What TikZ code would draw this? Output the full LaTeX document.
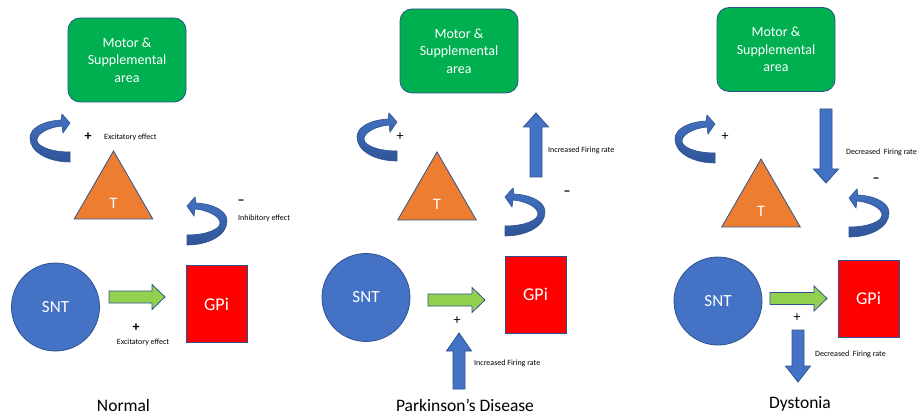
\documentclass[tikz,border=0pt]{standalone}
\usepackage{fontspec}
\setmainfont{Carlito}
\usetikzlibrary{shapes.geometric, positioning}

\definecolor{boxgreen}{HTML}{00B050}
\definecolor{edgeblue}{HTML}{2F528F}
\definecolor{triorange}{HTML}{ED7D31}
\definecolor{circblue}{HTML}{4472C4}
\definecolor{deepblue}{HTML}{2F5597}
\definecolor{arrowgreen}{HTML}{92D050}

\tikzstyle{motor} = [rectangle, rounded corners=12pt, minimum width=118pt, minimum height=84pt, draw=edgeblue, line width=0.8pt, fill=boxgreen, text=white, align=center, font=\fontsize{14}{17.5}\selectfont]
\tikzstyle{thalamus} = [regular polygon, regular polygon sides=3, minimum size=90.7pt, inner sep=0pt, draw=edgeblue, line width=0.8pt, fill=triorange]
\tikzstyle{snt} = [circle, minimum size=88pt, draw=edgeblue, line width=0.8pt, fill=circblue, text=white, font=\fontsize{17}{20}\selectfont]
\tikzstyle{gpi} = [rectangle, minimum width=61pt, minimum height=77pt, draw=edgeblue, line width=0.8pt, fill=red, text=white, font=\fontsize{18}{20}\selectfont]
\tikzstyle{tlabel} = [text=white, font=\fontsize{16}{18}\selectfont]
\tikzstyle{note} = [anchor=west, inner sep=1pt, font=\fontsize{8}{9}\selectfont]
\tikzstyle{sign} = [inner sep=0pt, font=\fontsize{14}{14}\selectfont]
\tikzstyle{title} = [font=\fontsize{17.5}{20}\selectfont]
\tikzstyle{curl} = [draw=edgeblue, line width=0.6pt, top color=circblue, bottom color=deepblue]
\tikzstyle{bluearrow} = [draw=edgeblue, line width=0.8pt, fill=circblue]
\tikzstyle{greenarrow} = [draw=edgeblue, line width=0.8pt, fill=arrowgreen]

% curved arrow: #1 top corner, #2 = 1 (head right) or -1 (head left)
\newcommand{\curlarrow}[2]{%
  \path[curl, shift={#1}, xscale=#2] (34,12) -- (35,19) -- (42,9) -- (34,0) -- (33,6)
    .. controls (15,7) and (2,14) .. (2,24)
    .. controls (2,38) and (20,48) .. (42,48) -- (42,38)
    .. controls (22,38) and (9,32) .. (9,26)
    .. controls (9,19) and (22,13) .. (34,12) -- cycle;}

% block arrow: #1 style, #2 tail, #3 angle, #4 length, #5 head length
\newcommand{\blockarrow}[5]{%
  \filldraw[#1, shift={#2}, rotate=#3] (0,-6) -- (#4-#5,-6) -- (#4-#5,-12.5) -- (#4,0)
    -- (#4-#5,12.5) -- (#4-#5,6) -- (0,6) -- cycle;}

\begin{document}
\begin{tikzpicture}[x=1pt, y=-1pt]
\useasboundingbox (0,0) rectangle (921,414);

% Normal
\node (motorN) [motor] at (127,60) {Motor \&\\Supplemental\\area};
\node (thalN) [thalamus] at (113.5,196.3) {};
\node (tN) [tlabel, yshift=-7pt] at (thalN.center) {T};
\node (sntN) [snt] at (55.5,307) {SNT};
\node (gpiN) [gpi] at (216.5,304) {GPi};
\curlarrow{(28,114)}{1}
\curlarrow{(229,197)}{-1}
\blockarrow{greenarrow}{(109,297)}{0}{56}{13}
\node (plusN1) [sign] at (88,137) {\textbf{+}};
\node (excN1) [note] at (103,137) {Excitatory effect};
\node (minusN) [sign] at (241,202) {\textbf{–}};
\node (inhN) [note] at (237,218) {Inhibitory effect};
\node (plusN2) [sign] at (136,328) {\textbf{+}};
\node (excN2) [note, anchor=center] at (143,342) {Excitatory effect};
\node (titleN) [title] at (123.5,405) {Normal};

% Parkinson's Disease
\node (motorP) [motor] at (459,51) {Motor \&\\Supplemental\\area};
\node (thalP) [thalamus] at (437,197.3) {};
\node (tP) [tlabel, yshift=-7pt] at (thalP.center) {T};
\node (sntP) [snt] at (366,297.5) {SNT};
\node (gpiP) [gpi] at (535.5,294.5) {GPi};
\curlarrow{(355,113)}{1}
\curlarrow{(547,188)}{-1}
\blockarrow{greenarrow}{(428,300)}{0}{57}{13}
\blockarrow{bluearrow}{(536,177)}{90}{64}{14}
\blockarrow{bluearrow}{(459,389)}{90}{56}{18}
\node (plusP1) [sign] at (400,137) {+};
\node (incP1) [note] at (547,150) {Increased Firing rate};
\node (minusP) [sign] at (567,193) {\textbf{–}};
\node (plusP2) [sign] at (457,321) {+};
\node (incP2) [note] at (473,363) {Increased Firing rate};
\node (titleP) [title] at (465,405) {Parkinson’s Disease};

% Dystonia
\node (motorD) [motor] at (776,49.5) {Motor \&\\Supplemental\\area};
\node (thalD) [thalamus] at (761,204.3) {};
\node (tD) [tlabel, yshift=-7pt] at (thalD.center) {T};
\node (sntD) [snt] at (718,301) {SNT};
\node (gpiD) [gpi] at (868.5,298.5) {GPi};
\curlarrow{(673,115)}{1}
\curlarrow{(891,189)}{-1}
\blockarrow{greenarrow}{(770,298.5)}{0}{57}{13}
\blockarrow{bluearrow}{(826,109)}{-90}{74}{14}
\blockarrow{bluearrow}{(798,330)}{-90}{52}{16}
\node (plusD1) [sign] at (725,137) {+};
\node (decD1) [note] at (845,152) {Decreased\ \ Firing rate};
\node (minusD) [sign] at (876,180) {\textbf{–}};
\node (plusD2) [sign] at (797,318) {+};
\node (decD2) [note] at (814,354) {Decreased\ \ Firing rate};
\node (titleD) [title] at (800,404) {Dystonia};

\end{tikzpicture}
\end{document}
